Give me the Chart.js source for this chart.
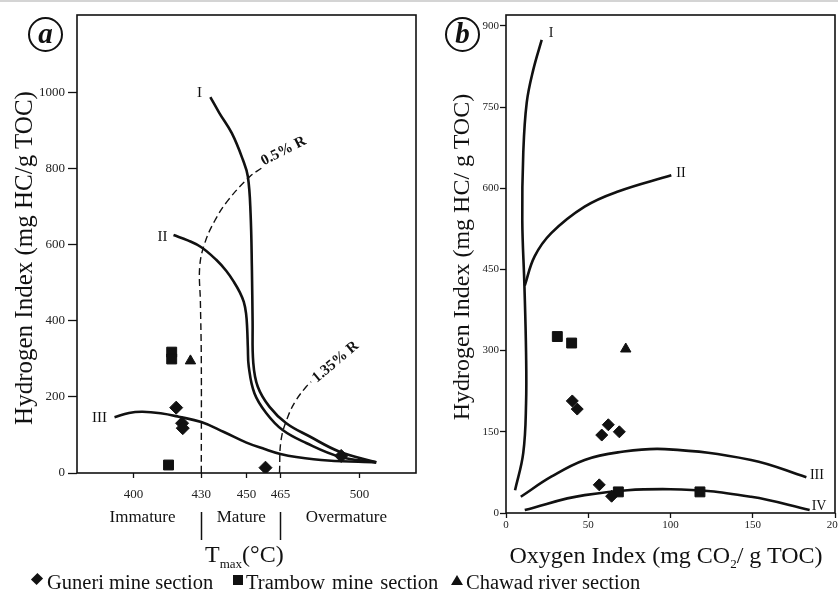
<!DOCTYPE html>
<html lang="en">
<head>
<meta charset="UTF-8">
<title>HI vs Tmax and HI vs OI</title>
<script src="https://cdn.jsdelivr.net/npm/chart.js"></script>
<style>
  body { margin: 0; width: 838px; height: 594px; overflow: hidden; background: #fff; position: relative;
         font-family: "Liberation Serif", "Times New Roman", serif; color: #111; }
  canvas { position: absolute; top: 0; }
  .txt { position: absolute; white-space: nowrap; line-height: 1; }
  .ytitle { transform: translate(-50%, -50%) rotate(-90deg); }
  .circ { position: absolute; width: 31px; height: 31px; border: 2px solid #111; border-radius: 50%;
          font: italic bold 29px "Liberation Serif", serif; text-align: center; line-height: 29px; }
  .mk { position: absolute; background: #111; }
  .topline { position: absolute; left: 0; top: 0; width: 838px; height: 2px; background: #d4d4d4; }
</style>
</head>
<body>
<div class="topline"></div>
<canvas id="chartA" width="430" height="594" style="left:0"></canvas>
<canvas id="chartB" width="440" height="594" style="left:418px"></canvas>

<div class="circ" style="left:28px;top:17px">a</div>
<div class="circ" style="left:445px;top:17px">b</div>

<div class="txt ytitle" style="left:23px;top:258px;font-size:25px">Hydrogen Index (mg HC/g TOC)</div>
<div class="txt ytitle" style="left:461px;top:257px;font-size:24px">Hydrogen Index (mg HC/ g TOC)</div>

<div class="txt" style="left:205px;top:542px;font-size:24px">T<span style="font-size:13px;position:relative;top:6px">max</span>(°C)</div>
<div class="txt" style="left:666px;top:543px;font-size:24px;transform:translateX(-50%)">Oxygen Index (mg CO<span style="font-size:13px;position:relative;top:5px">2</span>/ g TOC)</div>

<!-- legend -->
<div class="mk" style="left:33px;top:575px;width:8px;height:8px;transform:rotate(45deg) scaleY(1.15)"></div>
<div class="txt" style="left:47px;top:572px;font-size:20.5px">Guneri mine section</div>
<div class="mk" style="left:233px;top:575px;width:10px;height:10px"></div>
<div class="txt" style="left:246px;top:572px;font-size:20.5px;word-spacing:2px">Trambow mine section</div>
<div class="mk" style="left:451px;top:575px;width:0;height:0;background:none;border-left:6px solid transparent;border-right:6px solid transparent;border-bottom:10px solid #111"></div>
<div class="txt" style="left:466px;top:572px;font-size:20.5px">Chawad river section</div>

<script>
// ---------- panel a : HI vs Tmax ----------
const tmaxTicks = [400, 430, 450, 465, 500];
const hiTicksA = [0, 200, 400, 600, 800, 1000];

const guneriA  = [[418.9, 172], [421.5, 131], [421.8, 118], [458.4, 14], [491.9, 45]];
const trambowA = [[416.9, 318], [416.9, 300], [415.5, 21]];
const chawadA  = [[425.2, 295]];

const typeIA = [[434, 989], [438, 947], [443.5, 894], [448.4, 824], [450.6, 780], [451.8, 683], [452.4, 534],
                [452.7, 400], [453, 290], [455, 227], [460.2, 174], [467.6, 131], [478, 96], [491.2, 56], [507.4, 28]];
const typeIIA = [[417.7, 626], [424, 612], [430, 594], [436.6, 561], [441, 532], [444.5, 502], [447, 476],
                 [448.8, 450], [449.8, 420], [450.3, 380], [450.6, 330], [451, 280], [453.5, 210], [458.7, 158],
                 [466, 113], [476.4, 79], [491.2, 43], [507.4, 28]];
const typeIIIA = [[391.6, 147], [398, 158], [404, 161], [412, 157], [420, 148], [430, 134], [440, 108],
                  [450, 80], [458, 63], [465, 50], [472, 42], [486, 33], [507.4, 28]];
const ro05 = [[430, 0], [430, 300], [429.6, 450], [429.3, 543], [431.5, 604], [435.9, 663], [441.9, 718], [451.5, 780], [456.6, 802]];
const ro135 = [[464.6, 0], [465.3, 87], [468.3, 148], [472, 192], [476.4, 227], [478.6, 240]];

const zoneNames = ['Immature', 'Mature', 'Overmature'];
const zoneCenters = [404, 447.7, 494.2];
const zoneBounds = [430, 465];

// ---------- panel b : HI vs OI ----------
const oiTicks = [0, 50, 100, 150, 200];
const hiTicksB = [0, 150, 300, 450, 600, 750, 900];

const guneriB  = [[40.3, 207], [43.3, 192], [62.2, 163], [58.2, 144], [68.9, 150], [56.7, 52], [64.2, 31]];
const trambowB = [[31.2, 326], [39.9, 314], [68.3, 39], [117.9, 39]];
const chawadB  = [[72.8, 303]];

const typeIB = [[5.5, 42], [10.5, 111], [12.2, 203], [12.2, 296], [11.2, 420], [9.9, 541], [10.5, 665],
                [12.6, 758], [16.6, 819], [21.7, 874]];
const typeIIB = [[11.4, 420], [17.4, 474], [27.5, 517], [47.8, 566], [68.1, 594], [100.5, 624]];
const typeIIIB = [[9, 30], [27.5, 67], [47.8, 98], [68, 112], [96.5, 118], [149, 98], [182.6, 66]];
const typeIVB = [[11.4, 5.5], [47.8, 33], [100, 44], [149, 30], [184.6, 5.5]];

const serif = 'Liberation Serif';

function pts(arr) {
  return arr.map(([x, y]) => ({ x, y }));
}

function curve(arr, dashed) {
  return {
    data: pts(arr), showLine: true, pointRadius: 0, fill: false, tension: 0.4,
    borderColor: '#111', borderWidth: dashed ? 1.4 : 2.6, borderDash: dashed ? [7, 4] : [], order: 2
  };
}

function marks(arr, style, r) {
  return {
    data: pts(arr), showLine: false, pointStyle: style, pointRadius: r,
    pointBackgroundColor: '#111', pointBorderColor: '#111', pointBorderWidth: 1, order: 1
  };
}

function axis(min, max, ticks, size, tickLen, pad, fontSize) {
  return {
    type: 'linear', min, max,
    afterBuildTicks: s => { s.ticks = ticks.map(v => ({ value: v })); },
    afterFit: s => { if (s.isHorizontal()) s.height = size; else s.width = size; },
    grid: { display: true, drawOnChartArea: false, drawTicks: true, tickLength: tickLen, tickColor: '#111', tickWidth: 1.3 },
    border: { display: false },
    ticks: { font: { family: serif, size: fontSize }, color: '#222', padding: pad, autoSkip: false, maxRotation: 0,
             callback: v => String(v) }
  };
}

// box round the plot area
const frame = {
  id: 'frame',
  afterDraw(chart) {
    const { ctx, chartArea: a } = chart;
    ctx.save();
    ctx.strokeStyle = '#111';
    ctx.lineWidth = 1.6;
    ctx.strokeRect(a.left, a.top, a.right - a.left, a.bottom - a.top);
    ctx.restore();
  }
};

// text placed in data coordinates
const notes = {
  id: 'notes',
  afterDatasetsDraw(chart, args, opts) {
    const { ctx, scales: { x, y } } = chart;
    ctx.save();
    ctx.fillStyle = '#111';
    ctx.textAlign = 'center';
    ctx.textBaseline = 'middle';
    for (const n of opts.items) {
      ctx.font = n.font;
      ctx.save();
      ctx.translate(x.getPixelForValue(n.x), y.getPixelForValue(n.y));
      ctx.rotate((n.angle || 0) * Math.PI / 180);
      ctx.fillText(n.text, 0, 0);
      ctx.restore();
    }
    ctx.restore();
  }
};

// maturity zones under the Tmax axis
const zones = {
  id: 'zones',
  afterDraw(chart) {
    const { ctx, chartArea: a, scales: { x } } = chart;
    ctx.save();
    ctx.fillStyle = '#111';
    ctx.font = '17px ' + serif;
    ctx.textAlign = 'center';
    ctx.textBaseline = 'middle';
    zoneNames.forEach((name, i) => ctx.fillText(name, x.getPixelForValue(zoneCenters[i]), a.bottom + 45));
    ctx.strokeStyle = '#111';
    ctx.lineWidth = 1.5;
    zoneBounds.forEach(v => {
      const px = Math.round(x.getPixelForValue(v)) + 0.5;
      ctx.beginPath();
      ctx.moveTo(px, a.bottom + 39);
      ctx.lineTo(px, a.bottom + 67);
      ctx.stroke();
    });
    ctx.restore();
  }
};

const chartA = new Chart(document.getElementById('chartA'), {
  type: 'scatter',
  data: {
    datasets: [
      marks(guneriA, 'rectRot', 6.5),
      marks(trambowA, 'rect', 7),
      marks(chawadA, 'triangle', 6),
      curve(typeIA), curve(typeIIA), curve(typeIIIA),
      curve(ro05, true), curve(ro135, true)
    ]
  },
  options: {
    responsive: false, animation: false, events: [],
    layout: { padding: { left: 0, top: 15, right: 14, bottom: 94 } },
    scales: {
      x: axis(375, 525, tmaxTicks, 27, 5, 9, 13),
      y: axis(0, 1205, hiTicksA, 77, 9, 3, 13)
    },
    plugins: {
      legend: { display: false }, tooltip: { enabled: false },
      notes: {
        items: [
          { text: 'I', x: 429.2, y: 1000, font: '15px ' + serif },
          { text: 'II', x: 412.8, y: 621, font: '15px ' + serif },
          { text: 'III', x: 385, y: 145, font: '15px ' + serif },
          { text: '0.5% R', x: 466.4, y: 847, angle: -27, font: 'bold 15px ' + serif },
          { text: '1.35% R', x: 489.4, y: 292, angle: -40, font: 'bold 15px ' + serif }
        ]
      }
    }
  },
  plugins: [frame, notes, zones]
});

const chartB = new Chart(document.getElementById('chartB'), {
  type: 'scatter',
  data: {
    datasets: [
      marks(guneriB, 'rectRot', 6),
      marks(trambowB, 'rect', 7),
      marks(chawadB, 'triangle', 6),
      curve(typeIB), curve(typeIIB), curve(typeIIIB), curve(typeIVB)
    ]
  },
  options: {
    responsive: false, animation: false, events: [],
    layout: { padding: { left: 0, top: 15, right: 23, bottom: 54 } },
    scales: {
      x: axis(0, 200, oiTicks, 27, 5, 1, 11),
      y: axis(0, 920, hiTicksB, 88, 6, 1, 11)
    },
    plugins: {
      legend: { display: false }, tooltip: { enabled: false },
      notes: {
        items: [
          { text: 'I', x: 27.4, y: 887, font: '14px ' + serif },
          { text: 'II', x: 106.4, y: 628, font: '14px ' + serif },
          { text: 'III', x: 189, y: 70, font: '14px ' + serif },
          { text: 'IV', x: 190.3, y: 13, font: '14px ' + serif }
        ]
      }
    }
  },
  plugins: [frame, notes]
});
</script>
</body>
</html>
